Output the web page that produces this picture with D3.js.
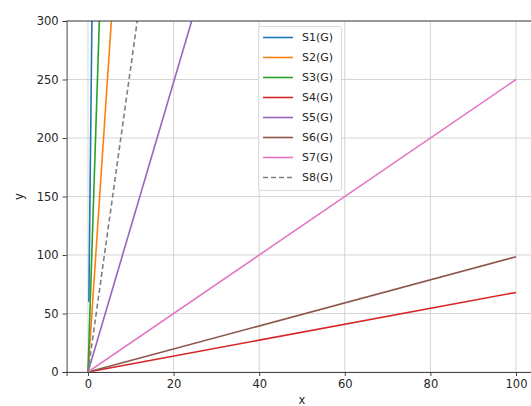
<!DOCTYPE html>
<html>
<head>
<meta charset="utf-8">
<script src="https://cdn.jsdelivr.net/npm/d3@7"></script>
<style>
  body { margin: 0; background: #fff; }
  svg { display: block; font-family: "DejaVu Sans", sans-serif; }
  .tick text { fill: #262626; font-size: 11.5px; }
  .grid line { stroke: #d0d0d0; stroke-width: 0.9; }
</style>
</head>
<body>
<div id="graphic"></div>
<script>
// series names and colours (matplotlib defaults)
var seriesNames = ["S1(G)", "S2(G)", "S3(G)", "S4(G)", "S5(G)", "S6(G)", "S7(G)", "S8(G)"];
var seriesColours = ["#1f77b4", "#ff7f0e", "#2ca02c", "#d62728", "#9467bd", "#8c564b", "#e377c2", "#7f7f7f"];
var seriesDash = [null, null, null, null, null, null, null, "5,3"];

// each series as [x, y] points
var s1 = [[0.2, 60], [1, 330]];
var s2 = [[0, 0], [6, 330]];
var s3 = [[0, 0], [3, 340]];
var s4 = [[0, 0], [100, 68]];
var s5 = [[0, 0], [26, 322]];
var s6 = [[0, 0], [100, 98.5]];
var s7 = [[0, 0], [100, 250]];
var s8 = [[0, 0], [12, 313]];
var seriesData = [s1, s2, s3, s4, s5, s6, s7, s8];

var xTicks = [0, 20, 40, 60, 80, 100];
var yTicks = [0, 50, 100, 150, 200, 250, 300];

var width = 531, height = 406;

var svg = d3.select("#graphic").append("svg")
  .attr("width", width)
  .attr("height", height);

var x = d3.scaleLinear().domain([-5, 105]).range([66.6, 537.4]);
var y = d3.scaleLinear().domain([0, 300]).range([372, 21]);

// grid
svg.append("g").attr("class", "grid")
  .selectAll("line.gx").data(xTicks).join("line")
  .attr("x1", d => x(d)).attr("x2", d => x(d))
  .attr("y1", y(0)).attr("y2", y(300));

svg.append("g").attr("class", "grid")
  .selectAll("line.gy").data(yTicks).join("line")
  .attr("x1", x(-5)).attr("x2", x(105))
  .attr("y1", d => y(d)).attr("y2", d => y(d));

// clip area for lines
svg.append("clipPath").attr("id", "clip")
  .append("rect")
  .attr("x", x(-5)).attr("y", y(300))
  .attr("width", x(105) - x(-5)).attr("height", y(0) - y(300));

var line = d3.line().x(d => x(d[0])).y(d => y(d[1]));

svg.append("g").attr("clip-path", "url(#clip)")
  .selectAll("path").data(seriesData).join("path")
  .attr("d", line)
  .attr("fill", "none")
  .attr("stroke", (d, i) => seriesColours[i])
  .attr("stroke-width", 1.6)
  .attr("stroke-dasharray", (d, i) => seriesDash[i]);

// axes
var xAxis = d3.axisBottom(x).tickValues(xTicks).tickSize(4).tickPadding(4);
var yAxis = d3.axisLeft(y).tickValues(yTicks).tickSize(4).tickPadding(4);

var gx = svg.append("g").attr("transform", "translate(0," + y(0) + ")").call(xAxis);
var gy = svg.append("g").attr("transform", "translate(" + x(-5) + ",0)").call(yAxis);

[gx, gy].forEach(function(g) {
  g.selectAll(".domain").attr("stroke", "#333").attr("stroke-width", 0.9);
  g.selectAll(".tick line").attr("stroke", "#333").attr("stroke-width", 0.9);
  g.selectAll(".tick text").style("font-family", "DejaVu Sans");
});

// top spine
svg.append("line")
  .attr("x1", x(-5)).attr("x2", x(105))
  .attr("y1", y(300)).attr("y2", y(300))
  .attr("stroke", "#333").attr("stroke-width", 0.9);

// axis labels
svg.append("text")
  .attr("x", (x(-5) + x(105)) / 2).attr("y", 404)
  .attr("text-anchor", "middle")
  .style("font-size", "11.5px").attr("fill", "#262626")
  .text("x");

svg.append("text")
  .attr("transform", "translate(23," + y(150) + ") rotate(-90)")
  .attr("text-anchor", "middle")
  .style("font-size", "11.5px").attr("fill", "#262626")
  .text("y");

// legend
var legend = svg.append("g");
legend.append("rect")
  .attr("x", 258.5).attr("y", 26.5)
  .attr("width", 83).attr("height", 164)
  .attr("rx", 2.5)
  .attr("fill", "#fff").attr("fill-opacity", 0.8)
  .attr("stroke", "#d6d6d6").attr("stroke-width", 0.9);

var item = legend.selectAll("g.item").data(seriesNames).join("g")
  .attr("class", "item")
  .attr("transform", (d, i) => "translate(0," + (37.5 + i * 20) + ")");

item.append("line")
  .attr("x1", 263).attr("x2", 293)
  .attr("stroke", (d, i) => seriesColours[i])
  .attr("stroke-width", 1.6)
  .attr("stroke-dasharray", (d, i) => seriesDash[i]);

item.append("text")
  .attr("x", 302).attr("dy", "0.35em")
  .style("font-size", "11px").attr("fill", "#262626")
  .text(d => d);
</script>
</body>
</html>
